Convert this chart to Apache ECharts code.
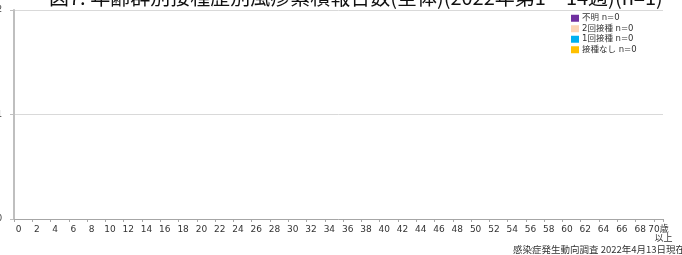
<!DOCTYPE html>
<html lang="ja">
<head>
    <meta charset="UTF-8">
    <title>eCharts</title>
    <script src="https://cdn.jsdelivr.net/npm/echarts@6.0.0/dist/echarts.min.js"></script>
    <style>
        body { margin: 0; background: #fff; }
    </style>
</head>
<body>
    <div id="main" style="width: 682px;height:255px;"></div>
    <script type="text/javascript">
        let ageLabels = ['0','1','2','3','4','5','6','7','8','9',
            '10','11','12','13','14','15','16','17','18','19',
            '20','21','22','23','24','25','26','27','28','29',
            '30','31','32','33','34','35','36','37','38','39',
            '40','41','42','43','44','45','46','47','48','49',
            '50','51','52','53','54','55','56','57','58','59',
            '60','61','62','63','64','65','66','67','68','69',
            '70歳以上'];

        let unknown = [0,0,0,0,0,0,0,0,0,0, 0,0,0,0,0,0,0,0,0,0, 0,0,0,0,0,0,0,0,0,0, 0,0,0,0,0,0,0,0,0,0, 0,0,0,0,0,0,0,0,0,0, 0,0,0,0,0,0,0,0,0,0, 0,0,0,0,0,0,0,0,0,0, 0];
        let twoDoses = [0,0,0,0,0,0,0,0,0,0, 0,0,0,0,0,0,0,0,0,0, 0,0,0,0,0,0,0,0,0,0, 0,0,0,0,0,0,0,0,0,0, 0,0,0,0,0,0,0,0,0,0, 0,0,0,0,0,0,0,0,0,0, 0,0,0,0,0,0,0,0,0,0, 0];
        let oneDose = [0,0,0,0,0,0,0,0,0,0, 0,0,0,0,0,0,0,0,0,0, 0,0,0,0,0,0,0,0,0,0, 0,0,0,0,0,0,0,0,0,0, 0,0,0,0,0,0,0,0,0,0, 0,0,0,0,0,0,0,0,0,0, 0,0,0,0,0,0,0,0,0,0, 0];
        let noDose = [0,0,0,0,0,0,0,0,0,0, 0,0,0,0,0,0,0,0,0,0, 0,0,0,0,0,0,0,0,0,0, 0,0,0,0,0,0,0,0,0,0, 0,0,0,0,0,0,0,0,0,0, 0,0,0,0,0,0,0,0,0,0, 0,0,0,0,0,0,0,0,0,0, 0];

        let seriesNames = ['不明 n=0', '2回接種 n=0', '1回接種 n=0', '接種なし n=0'];
        let seriesColors = ['#7030a0', '#fbd5b5', '#00b0f0', '#ffc000'];
        let seriesData = [unknown, twoDoses, oneDose, noDose];

        const font = "'DejaVu Sans', 'Noto Sans CJK JP', sans-serif";
        let myChart = echarts.init(document.getElementById('main'));

        let options = {
            animation: false,
            textStyle: { fontFamily: font },
            title: {
                text: '図7. 年齢群別接種歴別風疹累積報告数(全体)(2022年第1～14週)(n=1)',
                left: 44,
                top: -18,
                textStyle: { fontSize: 20, fontWeight: 'normal', color: '#111', fontFamily: "'Noto Sans CJK JP', sans-serif" }
            },
            legend: {
                orient: 'vertical',
                left: 566,
                top: 9,
                itemWidth: 8,
                itemHeight: 7,
                itemGap: 2,
                icon: 'rect',
                data: seriesNames,
                textStyle: { fontSize: 8.5, color: '#333', padding: [0, 0, 0, -2] }
            },
            grid: { left: 14, right: 19, top: 10, bottom: 36, outerBoundsMode: 'none' },
            xAxis: {
                type: 'category',
                data: ageLabels,
                boundaryGap: true,
                axisLine: { lineStyle: { color: '#a6a6a6', width: 1 } },
                axisTick: { show: true, length: 3, lineStyle: { color: '#a6a6a6' } },
                axisLabel: {
                    interval: 1,
                    fontSize: 9,
                    color: '#333',
                    margin: 6,
                    formatter: function (v) {
                        return v === '70歳以上' ? '70歳\n{r|以上}' : v;
                    },
                    rich: { r: { fontSize: 9, color: '#333', padding: [0, 0, 0, 10] } }
                }
            },
            yAxis: {
                type: 'value',
                min: 0,
                max: 2,
                interval: 1,
                axisLine: { show: true, lineStyle: { color: '#bfbfbf', width: 2 } },
                axisTick: { show: true, length: 4, lineStyle: { color: '#bfbfbf' } },
                axisLabel: { fontSize: 8, color: '#333', margin: 12 },
                splitLine: { lineStyle: { color: '#d9d9d9' } }
            },
            graphic: [{
                type: 'text',
                left: 513,
                top: 245,
                style: { text: '感染症発生動向調査 2022年4月13日現在', fontSize: 9.5, fill: '#333', fontFamily: "'Noto Sans CJK JP', sans-serif" }
            }],
            series: seriesNames.map((name, i) => ({
                name: name,
                type: 'bar',
                stack: 'total',
                barWidth: '80%',
                itemStyle: { color: seriesColors[i] },
                data: seriesData[i]
            }))
        };

        myChart.setOption(options);
    </script>
</body>
</html>
